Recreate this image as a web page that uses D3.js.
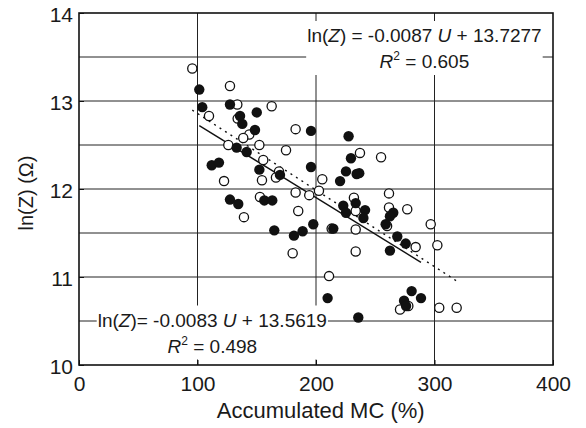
<!DOCTYPE html>
<html>
<head>
<meta charset="utf-8">
<script src="https://cdn.jsdelivr.net/npm/d3@7"></script>
<style>
    body { margin: 0; background: #fff; }
    svg { display: block; font-family: "Liberation Sans", Arial, sans-serif; }
</style>
</head>
<body>
<svg width="586" height="428"></svg>
<script>
// open circles
let openMC = [95.6, 109.7, 127.4, 133.6, 133.9, 162.6, 143.7, 138.6, 126.0, 152.2, 174.7, 182.8,
    155.5, 168.8, 237.1, 254.9, 205.3, 202.5, 261.6, 232.0, 233.5, 261.6, 277.0, 260.0,
    213.2, 233.5, 284.1, 296.8, 302.4, 233.5, 122.4, 139.2, 152.7, 154.4, 166.2, 182.8,
    194.3, 185.0, 180.3, 211.0, 270.9, 277.9, 304.0, 318.7];
let openLnZ = [13.37, 12.83, 13.17, 12.96, 12.80, 12.94, 12.62, 12.58, 12.50, 12.50, 12.44, 12.68,
    12.33, 12.20, 12.41, 12.36, 12.11, 11.98, 11.95, 11.90, 11.75, 11.79, 11.77, 11.58,
    11.55, 11.54, 11.34, 11.60, 11.36, 11.29, 12.09, 11.68, 11.91, 12.10, 12.13, 11.96,
    11.93, 11.75, 11.27, 11.01, 10.63, 10.67, 10.65, 10.65];

// filled circles
let filledMC = [101.5, 104.0, 127.4, 135.9, 137.8, 150.0, 148.5, 133.0, 141.5, 195.8, 112.0, 118.1,
    152.2, 195.8, 169.6, 227.5, 229.5, 225.3, 236.5, 234.3, 220.3, 233.5, 223.0, 225.3,
    241.4, 240.0, 265.2, 262.4, 258.8, 214.6, 268.6, 275.7, 262.4, 127.4, 134.4, 156.4,
    163.1, 164.8, 181.4, 188.7, 197.7, 209.8, 235.7, 280.7, 288.6, 274.3, 276.0];
let filledLnZ = [13.13, 12.93, 12.96, 12.83, 12.74, 12.87, 12.67, 12.47, 12.42, 12.66, 12.27, 12.30,
    12.22, 12.25, 12.16, 12.60, 12.35, 12.20, 12.18, 12.17, 12.09, 11.84, 11.81, 11.73,
    11.76, 11.67, 11.73, 11.69, 11.60, 11.55, 11.46, 11.38, 11.30, 11.88, 11.83, 11.87,
    11.87, 11.53, 11.47, 11.52, 11.60, 10.76, 10.54, 10.84, 10.76, 10.73, 10.67];

let openFit = {slope: -0.0087, intercept: 13.7277, r2: "0.605"};
let filledFit = {slope: -0.0083, intercept: 13.5619, r2: "0.498"};

let xTicks = [0, 100, 200, 300, 400];
let yTicks = [10, 11, 12, 13, 14];
let yGrid = [10.5, 11, 11.5, 12, 12.5, 13, 13.5];
let xGrid = [100, 200, 300];

let svg = d3.select("svg"),
    margin = {top: 13, right: 33, bottom: 63, left: 79},
    width = +svg.attr("width") - margin.left - margin.right,
    height = +svg.attr("height") - margin.top - margin.bottom;

let x = d3.scaleLinear().domain([0, 400]).range([0, width]),
    y = d3.scaleLinear().domain([10, 14]).range([height, 0]);

let g = svg.append("g")
    .attr("transform", "translate(" + margin.left + "," + margin.top + ")");

// grid
g.selectAll(".hgrid")
    .data(yGrid)
    .enter().append("line")
    .attr("x1", 0).attr("x2", width)
    .attr("y1", function (d) { return y(d); })
    .attr("y2", function (d) { return y(d); })
    .attr("stroke", "#222").attr("stroke-width", 1);

g.selectAll(".vgrid")
    .data(xGrid)
    .enter().append("line")
    .attr("y1", 0).attr("y2", height)
    .attr("x1", function (d) { return x(d); })
    .attr("x2", function (d) { return x(d); })
    .attr("stroke", "#222").attr("stroke-width", 1);

// annotation text blocks (white background cuts the grid)
let drawNote = function (cx, y1, fit, eqGap) {
    let note = g.append("g");
    let bg = note.append("rect").attr("fill", "#fff");
    let t1 = note.append("text")
        .attr("x", cx).attr("y", y1)
        .attr("text-anchor", "middle")
        .attr("font-size", 19).attr("fill", "#1a1a1a");
    t1.append("tspan").text("ln(");
    t1.append("tspan").attr("font-style", "italic").text("Z");
    t1.append("tspan").text(")" + eqGap + "= " + fit.slope.toFixed(4) + " ");
    t1.append("tspan").attr("font-style", "italic").text("U");
    t1.append("tspan").text(" + " + fit.intercept.toFixed(4));

    let t2 = note.append("text")
        .attr("x", cx).attr("y", y1 + 26)
        .attr("text-anchor", "middle")
        .attr("font-size", 19).attr("fill", "#1a1a1a");
    t2.append("tspan").attr("font-style", "italic").text("R");
    t2.append("tspan").attr("font-size", 12).attr("dy", -8).text("2");
    t2.append("tspan").attr("dy", 8).text(" = " + fit.r2);

    let b = note.node().getBBox();
    bg.attr("x", b.x - 1).attr("y", b.y - 4)
        .attr("width", b.width + 2).attr("height", b.height + 7);
};

drawNote(x(291.5), 29, openFit, " ");
drawNote(x(112.5), 313.5, filledFit, "");

// regression lines
let fitLine = function (xs, fit) {
    let ext = d3.extent(xs);
    return ext.map(function (u) { return [x(u), y(fit.intercept + fit.slope * u)]; });
};

g.append("path")
    .attr("d", d3.line()(fitLine(filledMC, filledFit)))
    .attr("fill", "none").attr("stroke", "#111").attr("stroke-width", 1.4);

g.append("path")
    .attr("d", d3.line()(fitLine(openMC, openFit)))
    .attr("fill", "none").attr("stroke", "#111").attr("stroke-width", 1.4)
    .attr("stroke-dasharray", "2,4.5");

// points
let openData = openMC.map(function (d, i) { return {mc: d, lz: openLnZ[i]}; });
let filledData = filledMC.map(function (d, i) { return {mc: d, lz: filledLnZ[i]}; });

g.selectAll(".open")
    .data(openData)
    .enter().append("circle")
    .attr("class", "open")
    .attr("cx", function (d) { return x(d.mc); })
    .attr("cy", function (d) { return y(d.lz); })
    .attr("r", 4.6)
    .attr("fill", "#fff").attr("stroke", "#111").attr("stroke-width", 1.3);

g.selectAll(".filled")
    .data(filledData)
    .enter().append("circle")
    .attr("class", "filled")
    .attr("cx", function (d) { return x(d.mc); })
    .attr("cy", function (d) { return y(d.lz); })
    .attr("r", 5.2)
    .attr("fill", "#111");

// axes
let xAxis = g.append("g")
    .attr("transform", "translate(0," + height + ")")
    .call(d3.axisBottom(x).tickValues(xTicks).tickSize(-5).tickPadding(11));
let yAxis = g.append("g")
    .call(d3.axisLeft(y).tickValues(yTicks).tickSize(-5).tickPadding(6).tickFormat(d3.format("d")));

[xAxis, yAxis].forEach(function (a) {
    a.select(".domain").remove();
    a.selectAll(".tick line").attr("stroke", "#111").attr("stroke-width", 1);
    a.selectAll(".tick text")
        .attr("font-size", 21)
        .attr("font-family", "Liberation Sans, Arial, sans-serif")
        .attr("fill", "#1a1a1a");
});
yAxis.selectAll(".tick text").attr("dy", "0.42em");

// frame
g.append("rect")
    .attr("x", 0).attr("y", 0)
    .attr("width", width).attr("height", height)
    .attr("fill", "none").attr("stroke", "#111").attr("stroke-width", 1.6);

// titles
svg.append("text")
    .attr("x", margin.left + x(204))
    .attr("y", 418)
    .attr("text-anchor", "middle")
    .attr("font-size", 22).attr("fill", "#1a1a1a")
    .text("Accumulated MC (%)");

svg.append("text")
    .attr("transform", "translate(33," + (margin.top + 180) + ") rotate(-90)")
    .attr("text-anchor", "middle")
    .attr("font-size", 20).attr("fill", "#1a1a1a")
    .text("ln(Z) (Ω)");
</script>
</body>
</html>
